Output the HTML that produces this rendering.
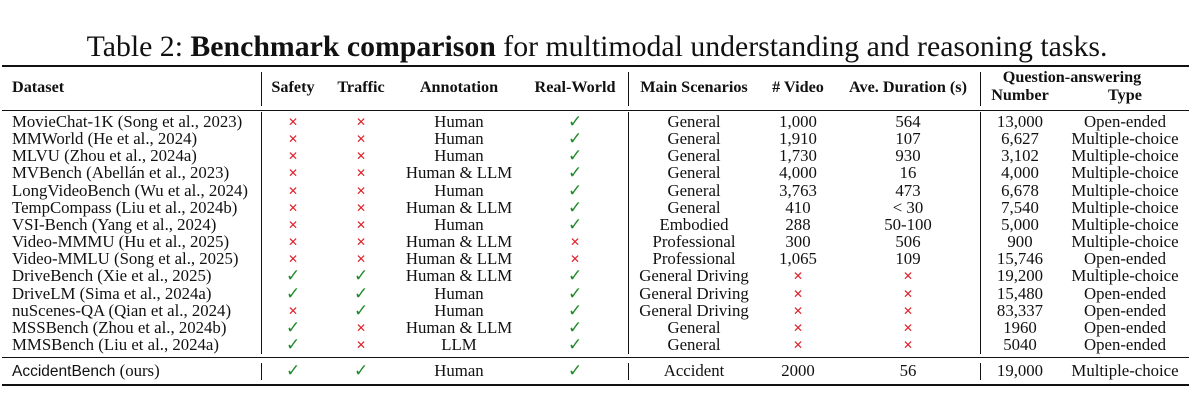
<!DOCTYPE html>
<html><head><meta charset="utf-8"><style>
body{margin:0;width:1196px;height:416px;background:#fff;position:relative;overflow:hidden;font-family:"Liberation Serif",serif;color:#111}
.t{position:absolute;white-space:nowrap;font-size:16.8px;line-height:17px}
.c{transform:translateX(-50%)}
.b{font-weight:bold;font-size:16.2px}
.rule{position:absolute;background:#111}
.x{color:#e0202a}.k{color:#1f8a2a}
</style></head><body>
<div class="t c" style="left:597px;top:31px;font-size:29.8px;line-height:32px">Table 2: <b>Benchmark comparison</b> for multimodal understanding and reasoning tasks.</div>
<div class="rule" style="left:2px;width:1187px;top:65px;height:2px"></div>
<div class="rule" style="left:2px;width:1187px;top:110px;height:1px"></div>
<div class="rule" style="left:2px;width:1187px;top:357px;height:1px"></div>
<div class="rule" style="left:2px;width:1187px;top:384px;height:2px"></div>
<div id="tbl"></div>
<script>
const cols=[12,293,361,459,575,694,798,908,1020,1125];
const headers=["Dataset","Safety","Traffic","Annotation","Real-World","Main Scenarios","# Video","Ave. Duration (s)","Number","Type"];
const rows=[
["MovieChat-1K (Song et al., 2023)","x","x","Human","v","General","1,000","564","13,000","Open-ended"],
["MMWorld (He et al., 2024)","x","x","Human","v","General","1,910","107","6,627","Multiple-choice"],
["MLVU (Zhou et al., 2024a)","x","x","Human","v","General","1,730","930","3,102","Multiple-choice"],
["MVBench (Abellán et al., 2023)","x","x","Human &amp; LLM","v","General","4,000","16","4,000","Multiple-choice"],
["LongVideoBench (Wu et al., 2024)","x","x","Human","v","General","3,763","473","6,678","Multiple-choice"],
["TempCompass (Liu et al., 2024b)","x","x","Human &amp; LLM","v","General","410","&lt; 30","7,540","Multiple-choice"],
["VSI-Bench (Yang et al., 2024)","x","x","Human","v","Embodied","288","50-100","5,000","Multiple-choice"],
["Video-MMMU (Hu et al., 2025)","x","x","Human &amp; LLM","x","Professional","300","506","900","Multiple-choice"],
["Video-MMLU (Song et al., 2025)","x","x","Human &amp; LLM","x","Professional","1,065","109","15,746","Open-ended"],
["DriveBench (Xie et al., 2025)","v","v","Human &amp; LLM","v","General Driving","x","x","19,200","Multiple-choice"],
["DriveLM (Sima et al., 2024a)","v","v","Human","v","General Driving","x","x","15,480","Open-ended"],
["nuScenes-QA (Qian et al., 2024)","x","v","Human","v","General Driving","x","x","83,337","Open-ended"],
["MSSBench (Zhou et al., 2024b)","v","x","Human &amp; LLM","v","General","x","x","1960","Open-ended"],
["MMSBench (Liu et al., 2024a)","v","x","LLM","v","General","x","x","5040","Open-ended"],
["<span style=\"font-family:'Liberation Sans',sans-serif;font-size:15.5px\">AccidentBench</span> (ours)","v","v","Human","v","Accident","2000","56","19,000","Multiple-choice"]];
const tbl=document.getElementById('tbl');
function add(html,x,y,cls){const d=document.createElement('div');d.className='t '+cls;d.style.left=x+'px';d.style.top=y+'px';d.innerHTML=html;tbl.appendChild(d);return d;}
const qa=add('Question-answering',1072,69,'b c');


headers.forEach((h,i)=>{const y=i>=8?87:79;const d=add(h,cols[i],y,'b'+(i?' c':''));

});
rows.forEach((r,ri)=>{const y=ri<14?113+ri*17.15:362;
r.forEach((v,i)=>{let h=v,cls=i?'c':'';
if(v==='x'){h='✕';cls+=' x';}else if(v==='v'){h='✓';cls+=' k';}
const d=add(h,cols[i],y,cls);if(v==='x'){d.style.fontSize='12px';d.style.top=(y+1)+'px';}
if(v==='v'){d.style.fontWeight='300';}

});});
[[261,72,106],[628,72,106],[980,72,106],[261,112,354],[628,112,354],[980,112,354],[261,363,380],[628,363,380],[980,363,380]].forEach(v=>{
const d=document.createElement('div');d.className='rule';d.style.left=v[0]+'px';d.style.top=v[1]+'px';d.style.width='1px';d.style.height=(v[2]-v[1])+'px';


tbl.appendChild(d);});
</script>
</body></html>
